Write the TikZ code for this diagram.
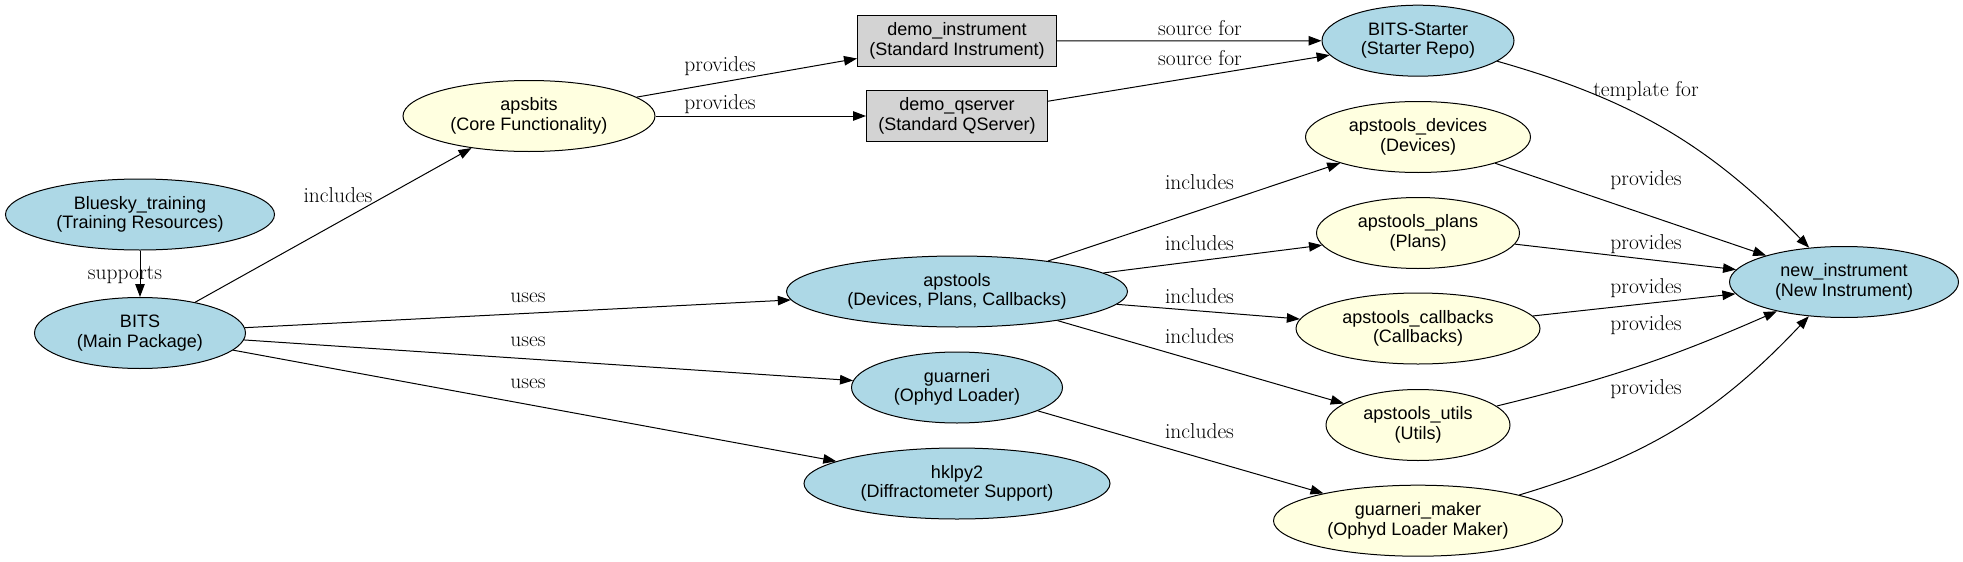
\documentclass[tikz,border=0pt]{standalone}
\usepackage{fontspec}
\usetikzlibrary{shapes.geometric,arrows.meta}
\newfontfamily\nodefont{Liberation Sans}
\definecolor{pkgblue}{HTML}{ADD8E6}
\definecolor{pkgyellow}{HTML}{FFFFE0}
\definecolor{demogray}{HTML}{D3D3D3}

\begin{document}
\begin{tikzpicture}
                \tikzset{x=1pt, y=-1pt}
                \tikzstyle{pkg}=[ellipse, draw, line width=1pt, inner sep=0pt, minimum height=71pt, align=center, font=\nodefont\fontsize{18}{19.5}\selectfont]
                \tikzstyle{main}=[pkg, fill=pkgblue]
                \tikzstyle{part}=[pkg, fill=pkgyellow]
                \tikzstyle{demo}=[rectangle, draw, line width=1pt, inner sep=0pt, minimum height=51pt, fill=demogray, align=center, font=\nodefont\fontsize{18}{19.5}\selectfont]
                \tikzstyle{rel}=[anchor=base, inner sep=0pt, font=\fontsize{21.5}{24}\selectfont]
                \tikzstyle{link}=[-{Triangle[length=13pt, width=9.5pt]}, line width=1pt]

                \useasboundingbox (0, 0) rectangle (1963, 562);

                \draw (140, 214.5)   node[main, minimum width=269pt] (train)     {Bluesky\_training\\(Training Resources)};
                \draw (140, 333)     node[main, minimum width=211pt] (bits)      {BITS\\(Main Package)};
                \draw (529, 116)     node[part, minimum width=252pt] (apsbits)   {apsbits\\(Core Functionality)};

                \draw (957, 41)      node[demo, minimum width=199pt] (dinst)     {demo\_instrument\\(Standard Instrument)};
                \draw (957, 116)     node[demo, minimum width=181pt] (dqs)       {demo\_qserver\\(Standard QServer)};
                \draw (957, 291.5)   node[main, minimum width=341pt] (apstools)  {apstools\\(Devices, Plans, Callbacks)};
                \draw (957, 387.5)   node[main, minimum width=211pt] (guarneri)  {guarneri\\(Ophyd Loader)};
                \draw (957, 483.5)   node[main, minimum width=306pt] (hklpy)     {hklpy2\\(Diffractometer Support)};

                \draw (1418, 40.7)   node[main, minimum width=192pt] (starter)   {BITS-Starter\\(Starter Repo)};
                \draw (1418, 137)    node[part, minimum width=225pt] (devices)   {apstools\_devices\\(Devices)};
                \draw (1418, 233)    node[part, minimum width=203pt] (plans)     {apstools\_plans\\(Plans)};
                \draw (1418, 328.5)  node[part, minimum width=244pt] (callbacks) {apstools\_callbacks\\(Callbacks)};
                \draw (1418, 425)    node[part, minimum width=184pt] (utils)     {apstools\_utils\\(Utils)};
                \draw (1418, 520.7)  node[part, minimum width=289pt] (gmaker)    {guarneri\_maker\\(Ophyd Loader Maker)};

                \draw (1844, 282)    node[main, minimum width=229pt] (newinst)   {new\_instrument\\(New Instrument)};

                % edge labels
                \draw (125, 279)     node[rel] (lsup)   {supports};
                \draw (338, 202.5)   node[rel] (linc)   {includes};
                \draw (528, 302)     node[rel] (luse1)  {uses};
                \draw (528, 346)     node[rel] (luse2)  {uses};
                \draw (528, 388)     node[rel] (luse3)  {uses};
                \draw (720, 71)      node[rel] (lprv1)  {provides};
                \draw (720, 109.7)   node[rel] (lprv2)  {provides};
                \draw (1200, 35.8)   node[rel] (lsrc1)  {source for};
                \draw (1200, 65.2)   node[rel] (lsrc2)  {source for};
                \draw (1199.5, 189)  node[rel] (linc1)  {includes};
                \draw (1199.5, 250)  node[rel] (linc2)  {includes};
                \draw (1199.5, 303)  node[rel] (linc3)  {includes};
                \draw (1199.5, 343)  node[rel] (linc4)  {includes};
                \draw (1199.5, 438)  node[rel] (linc5)  {includes};
                \draw (1646, 96)     node[rel] (ltpl)   {template for};
                \draw (1646, 185)    node[rel] (lout1)  {provides};
                \draw (1646, 249)    node[rel] (lout2)  {provides};
                \draw (1646, 293)    node[rel] (lout3)  {provides};
                \draw (1646, 330.5)  node[rel] (lout4)  {provides};
                \draw (1646, 394)    node[rel] (lout5)  {provides};

                \draw [link]         (train) -- (bits);
                \draw [link]         (bits) -- (apsbits);
                \draw [link]         (bits) -- (apstools);
                \draw [link]         (bits) -- (guarneri);
                \draw [link]         (bits) -- (hklpy);
                \draw [link]         (apsbits) -- (dinst);
                \draw [link]         (apsbits) -- (dqs);
                \draw [link]         (dinst) -- (starter);
                \draw [link]         (dqs) -- (starter);
                \draw [link]         (apstools) -- (devices);
                \draw [link]         (apstools) -- (plans);
                \draw [link]         (apstools) -- (callbacks);
                \draw [link]         (apstools) -- (utils);
                \draw [link]         (guarneri) -- (gmaker);
                \draw [link]         (starter) to[bend left=15] (newinst);
                \draw [link]         (devices) -- (newinst);
                \draw [link]         (plans) -- (newinst);
                \draw [link]         (callbacks) -- (newinst);
                \draw [link]         (utils) to[bend right=5] (newinst);
                \draw [link]         (gmaker) to[bend right=15] (newinst);
            \end{tikzpicture}
\end{document}
